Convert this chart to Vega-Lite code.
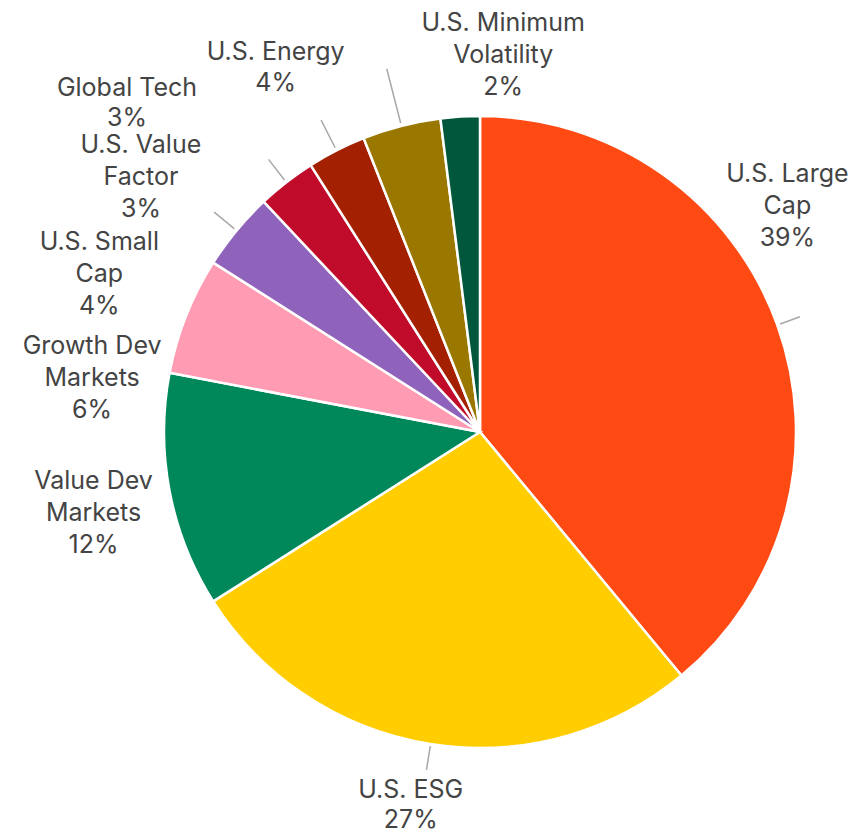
{
  "$schema": "https://vega.github.io/schema/vega-lite/v6.json",
  "width": 766,
  "height": 802,
  "autosize": {"type": "none"},
  "padding": {"left": 97, "top": 31, "right": 0, "bottom": 0},
  "background": "white",
  "config": {"view": {"stroke": null}},
  "data": {
    "values": [
      {"idx": 1, "category": "U.S. Large Cap", "label": "U.S. Large\nCap\n39%", "value": 39},
      {"idx": 2, "category": "U.S. ESG", "label": "U.S. ESG\n27%", "value": 27},
      {"idx": 3, "category": "Value Dev Markets", "label": "Value Dev\nMarkets\n12%", "value": 12},
      {"idx": 4, "category": "Growth Dev Markets", "label": "Growth Dev\nMarkets\n6%", "value": 6},
      {"idx": 5, "category": "U.S. Small Cap", "label": "U.S. Small\nCap\n4%", "value": 4},
      {"idx": 6, "category": "U.S. Value Factor", "label": "U.S. Value\nFactor\n3%", "value": 3},
      {"idx": 7, "category": "Global Tech", "label": "Global Tech\n3%", "value": 3},
      {"idx": 8, "category": "U.S. Energy", "label": "U.S. Energy\n4%", "value": 4},
      {"idx": 9, "category": "U.S. Minimum Volatility", "label": "U.S. Minimum\nVolatility\n2%", "value": 2}
    ]
  },
  "encoding": {
    "theta": {"field": "value", "type": "quantitative", "stack": true},
    "order": {"field": "idx", "type": "quantitative"},
    "detail": {"field": "category", "type": "nominal"}
  },
  "layer": [
    {
      "mark": {"type": "arc", "radius": 316, "stroke": "white", "strokeWidth": 2.5},
      "encoding": {
        "color": {
          "field": "category",
          "type": "nominal",
          "legend": null,
          "scale": {
            "domain": ["U.S. Large Cap", "U.S. ESG", "Value Dev Markets", "Growth Dev Markets", "U.S. Small Cap", "U.S. Value Factor", "Global Tech", "U.S. Energy", "U.S. Minimum Volatility"],
            "range": ["#FF4A14", "#FFCD00", "#00875A", "#FF9BB3", "#8F63BB", "#C00C2A", "#A32100", "#9A7800", "#00573C"]
          }
        }
      }
    },
    {
      "transform": [
        {"stack": "value", "groupby": [], "sort": [{"field": "idx", "order": "ascending"}], "as": ["v0", "v1"]},
        {"filter": "datum.category === 'U.S. Large Cap'"}
      ],
      "mark": {"type": "arc", "radius": 340, "radius2": 319, "thetaOffset": 1.2252211, "theta2Offset": 1.2252211, "stroke": "#A8A8A8", "strokeWidth": 1.5, "fillOpacity": 0},
      "encoding": {"theta": {"field": "v0", "type": "quantitative", "stack": null}, "theta2": {"field": "v0"}}
    },
    {
      "transform": [
        {"stack": "value", "groupby": [], "sort": [{"field": "idx", "order": "ascending"}], "as": ["v0", "v1"]},
        {"filter": "datum.category === 'U.S. ESG'"}
      ],
      "mark": {"type": "arc", "radius": 342, "radius2": 318, "thetaOffset": 0.8482300, "theta2Offset": 0.8482300, "stroke": "#A8A8A8", "strokeWidth": 1.5, "fillOpacity": 0},
      "encoding": {"theta": {"field": "v0", "type": "quantitative", "stack": null}, "theta2": {"field": "v0"}}
    },
    {
      "transform": [
        {"stack": "value", "groupby": [], "sort": [{"field": "idx", "order": "ascending"}], "as": ["v0", "v1"]},
        {"filter": "datum.category === 'U.S. Small Cap'"}
      ],
      "mark": {"type": "arc", "radius": 345, "radius2": 319, "thetaOffset": 0.1256637, "theta2Offset": 0.1256637, "stroke": "#A8A8A8", "strokeWidth": 1.5, "fillOpacity": 0},
      "encoding": {"theta": {"field": "v0", "type": "quantitative", "stack": null}, "theta2": {"field": "v0"}}
    },
    {
      "transform": [
        {"stack": "value", "groupby": [], "sort": [{"field": "idx", "order": "ascending"}], "as": ["v0", "v1"]},
        {"filter": "datum.category === 'U.S. Value Factor'"}
      ],
      "mark": {"type": "arc", "radius": 345, "radius2": 319, "thetaOffset": 0.0942478, "theta2Offset": 0.0942478, "stroke": "#A8A8A8", "strokeWidth": 1.5, "fillOpacity": 0},
      "encoding": {"theta": {"field": "v0", "type": "quantitative", "stack": null}, "theta2": {"field": "v0"}}
    },
    {
      "transform": [
        {"stack": "value", "groupby": [], "sort": [{"field": "idx", "order": "ascending"}], "as": ["v0", "v1"]},
        {"filter": "datum.category === 'Global Tech'"}
      ],
      "mark": {"type": "arc", "radius": 350, "radius2": 319, "thetaOffset": 0.0942478, "theta2Offset": 0.0942478, "stroke": "#A8A8A8", "strokeWidth": 1.5, "fillOpacity": 0},
      "encoding": {"theta": {"field": "v0", "type": "quantitative", "stack": null}, "theta2": {"field": "v0"}}
    },
    {
      "transform": [
        {"stack": "value", "groupby": [], "sort": [{"field": "idx", "order": "ascending"}], "as": ["v0", "v1"]},
        {"filter": "datum.category === 'U.S. Energy'"}
      ],
      "mark": {"type": "arc", "radius": 375, "radius2": 319, "thetaOffset": 0.1256637, "theta2Offset": 0.1256637, "stroke": "#A8A8A8", "strokeWidth": 1.5, "fillOpacity": 0},
      "encoding": {"theta": {"field": "v0", "type": "quantitative", "stack": null}, "theta2": {"field": "v0"}}
    },
    {
      "mark": {"type": "text", "radius": 315, "dx": 11, "dy": -151, "fontSize": 25, "font": "Inter", "lineBreak": "\n", "lineHeight": 32, "color": "#444444", "align": "center", "baseline": "middle"},
      "encoding": {"text": {"condition": {"test": "datum.category === 'U.S. Large Cap'", "field": "label", "type": "nominal"}, "value": ""}}
    },
    {
      "mark": {"type": "text", "radius": 315, "dx": -20, "dy": 47, "fontSize": 25, "font": "Inter", "lineBreak": "\n", "lineHeight": 30, "color": "#444444", "align": "center", "baseline": "middle"},
      "encoding": {"text": {"condition": {"test": "datum.category === 'U.S. ESG'", "field": "label", "type": "nominal"}, "value": ""}}
    },
    {
      "mark": {"type": "text", "radius": 315, "dx": -77, "dy": -10, "fontSize": 25, "font": "Inter", "lineBreak": "\n", "lineHeight": 32, "color": "#444444", "align": "center", "baseline": "middle"},
      "encoding": {"text": {"condition": {"test": "datum.category === 'Value Dev Markets'", "field": "label", "type": "nominal"}, "value": ""}}
    },
    {
      "mark": {"type": "text", "radius": 315, "dx": -95, "dy": 30, "fontSize": 25, "font": "Inter", "lineBreak": "\n", "lineHeight": 32, "color": "#444444", "align": "center", "baseline": "middle"},
      "encoding": {"text": {"condition": {"test": "datum.category === 'Growth Dev Markets'", "field": "label", "type": "nominal"}, "value": ""}}
    },
    {
      "mark": {"type": "text", "radius": 315, "dx": -138, "dy": 11, "fontSize": 25, "font": "Inter", "lineBreak": "\n", "lineHeight": 32, "color": "#444444", "align": "center", "baseline": "middle"},
      "encoding": {"text": {"condition": {"test": "datum.category === 'U.S. Small Cap'", "field": "label", "type": "nominal"}, "value": ""}}
    },
    {
      "mark": {"type": "text", "radius": 315, "dx": -146, "dy": -38, "fontSize": 25, "font": "Inter", "lineBreak": "\n", "lineHeight": 32, "color": "#444444", "align": "center", "baseline": "middle"},
      "encoding": {"text": {"condition": {"test": "datum.category === 'U.S. Value Factor'", "field": "label", "type": "nominal"}, "value": ""}}
    },
    {
      "mark": {"type": "text", "radius": 315, "dx": -210, "dy": -63, "fontSize": 25, "font": "Inter", "lineBreak": "\n", "lineHeight": 30, "color": "#444444", "align": "center", "baseline": "middle"},
      "encoding": {"text": {"condition": {"test": "datum.category === 'Global Tech'", "field": "label", "type": "nominal"}, "value": ""}}
    },
    {
      "mark": {"type": "text", "radius": 315, "dx": -126, "dy": -75, "fontSize": 25, "font": "Inter", "lineBreak": "\n", "lineHeight": 31, "color": "#444444", "align": "center", "baseline": "middle"},
      "encoding": {"text": {"condition": {"test": "datum.category === 'U.S. Energy'", "field": "label", "type": "nominal"}, "value": ""}}
    },
    {
      "mark": {"type": "text", "radius": 315, "dx": 43, "dy": -95, "fontSize": 25, "font": "Inter", "lineBreak": "\n", "lineHeight": 32, "color": "#444444", "align": "center", "baseline": "middle"},
      "encoding": {"text": {"condition": {"test": "datum.category === 'U.S. Minimum Volatility'", "field": "label", "type": "nominal"}, "value": ""}}
    }
  ]
}
